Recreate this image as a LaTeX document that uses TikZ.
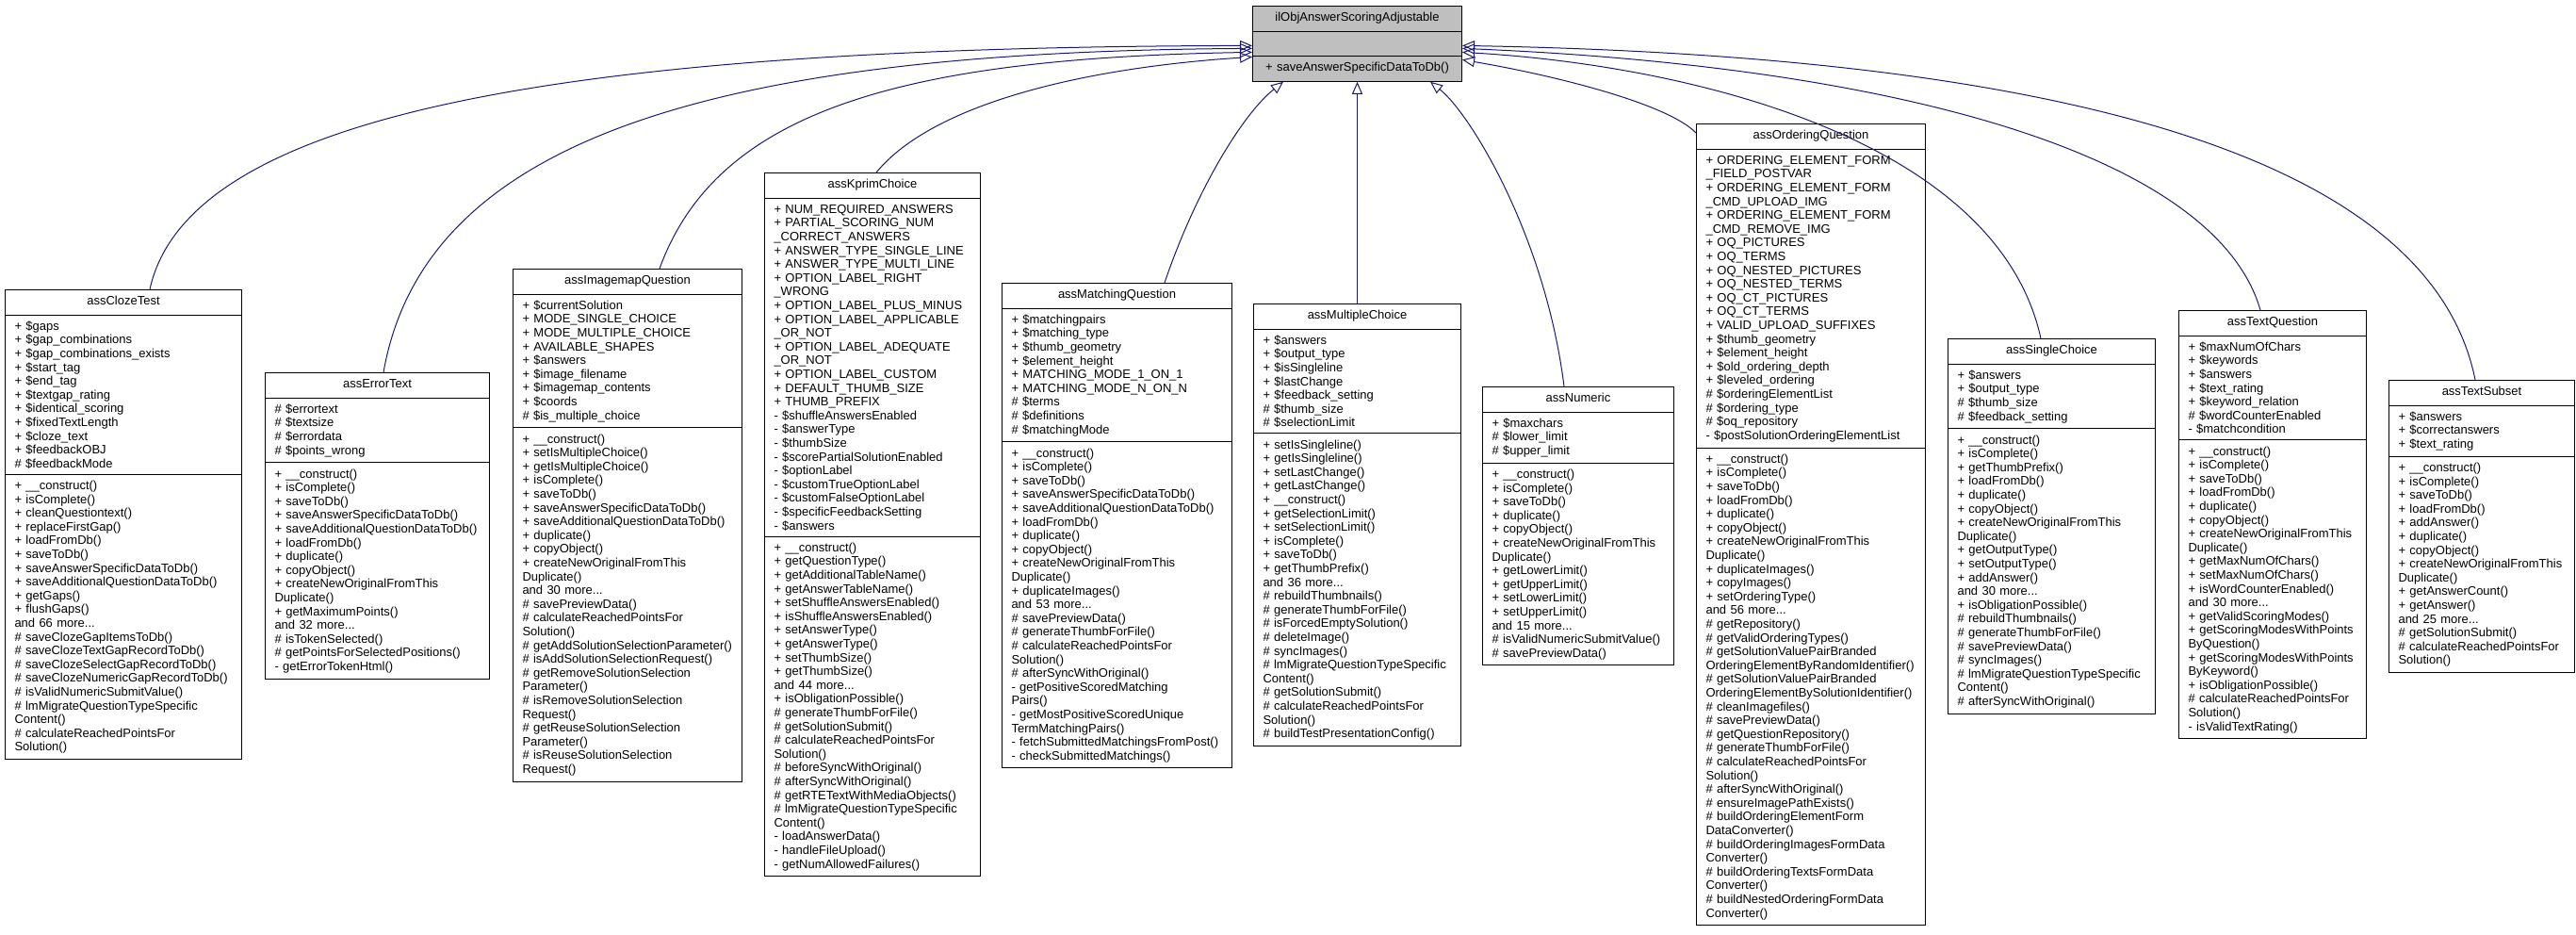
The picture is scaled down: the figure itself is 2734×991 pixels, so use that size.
\documentclass[tikz,border=0pt]{standalone}
\usepackage{fontspec}
\setmainfont{Liberation Sans}
\usetikzlibrary{shapes.multipart,calc,arrows.meta}
\definecolor{navy}{HTML}{191970}
\definecolor{basegray}{HTML}{BFBFBF}
\tikzset{
  cls/.style={rectangle split, rectangle split parts=3, draw=black, line width=1bp,
    fill=white, anchor=north west, inner xsep=10bp, inner ysep=5.5bp, align=left,
    font=\fontsize{13bp}{14.6bp}\selectfont},
  inh/.style={draw=navy, line width=1bp, -{Triangle[open,length=13bp,width=11bp]}}
}
\newcommand{\ttl}[1]{\strut\hfill #1\hfill\null}
\begin{document}
\begin{tikzpicture}[x=1bp,y=-1bp]
  \useasboundingbox (0,0) rectangle (2734,991);
  % base class
  \node[cls, fill=basegray, text width=202bp] (base) at (1329,6)
  {\ttl{ilObjAnswerScoringAdjustable}\nodepart{two}\strut\nodepart{three}\strut\hfill + saveAnswerSpecificDataToDb()\hfill\null};
  % derived classes
  \node[cls, text width=231bp] (cloze) at (5,307)
  {\ttl{assClozeTest}
  \nodepart{two}\strut + \$gaps\\ + \$gap\_combinations\\ + \$gap\_combinations\_exists\\ + \$start\_tag\\ + \$end\_tag\\ + \$textgap\_rating\\ + \$identical\_scoring\\ + \$fixedTextLength\\ + \$cloze\_text\\ + \$feedbackOBJ\\ \# \$feedbackMode
  \nodepart{three}\strut + \_\_construct()\\ + isComplete()\\ + cleanQuestiontext()\\ + replaceFirstGap()\\ + loadFromDb()\\ + saveToDb()\\ + saveAnswerSpecificDataToDb()\\ + saveAdditionalQuestionDataToDb()\\ + getGaps()\\ + flushGaps()\\ and 66 more...\\ \# saveClozeGapItemsToDb()\\ \# saveClozeTextGapRecordToDb()\\ \# saveClozeSelectGapRecordToDb()\\ \# saveClozeNumericGapRecordToDb()\\ \# isValidNumericSubmitValue()\\ \# lmMigrateQuestionTypeSpecific\\ Content()\\ \# calculateReachedPointsFor\\ Solution()};
  \node[cls, text width=218bp] (errortext) at (281,395)
  {\ttl{assErrorText}
  \nodepart{two}\strut \# \$errortext\\ \# \$textsize\\ \# \$errordata\\ \# \$points\_wrong
  \nodepart{three}\strut + \_\_construct()\\ + isComplete()\\ + saveToDb()\\ + saveAnswerSpecificDataToDb()\\ + saveAdditionalQuestionDataToDb()\\ + loadFromDb()\\ + duplicate()\\ + copyObject()\\ + createNewOriginalFromThis\\ Duplicate()\\ + getMaximumPoints()\\ and 32 more...\\ \# isTokenSelected()\\ \# getPointsForSelectedPositions()\\ - getErrorTokenHtml()};
  \node[cls, text width=223bp] (imagemap) at (544,285)
  {\ttl{assImagemapQuestion}
  \nodepart{two}\strut + \$currentSolution\\ + MODE\_SINGLE\_CHOICE\\ + MODE\_MULTIPLE\_CHOICE\\ + AVAILABLE\_SHAPES\\ + \$answers\\ + \$image\_filename\\ + \$imagemap\_contents\\ + \$coords\\ \# \$is\_multiple\_choice
  \nodepart{three}\strut + \_\_construct()\\ + setIsMultipleChoice()\\ + getIsMultipleChoice()\\ + isComplete()\\ + saveToDb()\\ + saveAnswerSpecificDataToDb()\\ + saveAdditionalQuestionDataToDb()\\ + duplicate()\\ + copyObject()\\ + createNewOriginalFromThis\\ Duplicate()\\ and 30 more...\\ \# savePreviewData()\\ \# calculateReachedPointsFor\\ Solution()\\ \# getAddSolutionSelectionParameter()\\ \# isAddSolutionSelectionRequest()\\ \# getRemoveSolutionSelection\\ Parameter()\\ \# isRemoveSolutionSelection\\ Request()\\ \# getReuseSolutionSelection\\ Parameter()\\ \# isReuseSolutionSelection\\ Request()};
  \node[cls, text width=209bp] (kprim) at (811,183)
  {\ttl{assKprimChoice}
  \nodepart{two}\strut + NUM\_REQUIRED\_ANSWERS\\ + PARTIAL\_SCORING\_NUM\\ \_CORRECT\_ANSWERS\\ + ANSWER\_TYPE\_SINGLE\_LINE\\ + ANSWER\_TYPE\_MULTI\_LINE\\ + OPTION\_LABEL\_RIGHT\\ \_WRONG\\ + OPTION\_LABEL\_PLUS\_MINUS\\ + OPTION\_LABEL\_APPLICABLE\\ \_OR\_NOT\\ + OPTION\_LABEL\_ADEQUATE\\ \_OR\_NOT\\ + OPTION\_LABEL\_CUSTOM\\ + DEFAULT\_THUMB\_SIZE\\ + THUMB\_PREFIX\\ - \$shuffleAnswersEnabled\\ - \$answerType\\ - \$thumbSize\\ - \$scorePartialSolutionEnabled\\ - \$optionLabel\\ - \$customTrueOptionLabel\\ - \$customFalseOptionLabel\\ - \$specificFeedbackSetting\\ - \$answers
  \nodepart{three}\strut + \_\_construct()\\ + getQuestionType()\\ + getAdditionalTableName()\\ + getAnswerTableName()\\ + setShuffleAnswersEnabled()\\ + isShuffleAnswersEnabled()\\ + setAnswerType()\\ + getAnswerType()\\ + setThumbSize()\\ + getThumbSize()\\ and 44 more...\\ + isObligationPossible()\\ \# generateThumbForFile()\\ \# getSolutionSubmit()\\ \# calculateReachedPointsFor\\ Solution()\\ \# beforeSyncWithOriginal()\\ \# afterSyncWithOriginal()\\ \# getRTETextWithMediaObjects()\\ \# lmMigrateQuestionTypeSpecific\\ Content()\\ - loadAnswerData()\\ - handleFileUpload()\\ - getNumAllowedFailures()};
  \node[cls, text width=224bp] (matching) at (1063,300)
  {\ttl{assMatchingQuestion}
  \nodepart{two}\strut + \$matchingpairs\\ + \$matching\_type\\ + \$thumb\_geometry\\ + \$element\_height\\ + MATCHING\_MODE\_1\_ON\_1\\ + MATCHING\_MODE\_N\_ON\_N\\ \# \$terms\\ \# \$definitions\\ \# \$matchingMode
  \nodepart{three}\strut + \_\_construct()\\ + isComplete()\\ + saveToDb()\\ + saveAnswerSpecificDataToDb()\\ + saveAdditionalQuestionDataToDb()\\ + loadFromDb()\\ + duplicate()\\ + copyObject()\\ + createNewOriginalFromThis\\ Duplicate()\\ + duplicateImages()\\ and 53 more...\\ \# savePreviewData()\\ \# generateThumbForFile()\\ \# calculateReachedPointsFor\\ Solution()\\ \# afterSyncWithOriginal()\\ - getPositiveScoredMatching\\ Pairs()\\ - getMostPositiveScoredUnique\\ TermMatchingPairs()\\ - fetchSubmittedMatchingsFromPost()\\ - checkSubmittedMatchings()};
  \node[cls, text width=200bp] (multiplechoice) at (1330,322)
  {\ttl{assMultipleChoice}
  \nodepart{two}\strut + \$answers\\ + \$output\_type\\ + \$isSingleline\\ + \$lastChange\\ + \$feedback\_setting\\ \# \$thumb\_size\\ \# \$selectionLimit
  \nodepart{three}\strut + setIsSingleline()\\ + getIsSingleline()\\ + setLastChange()\\ + getLastChange()\\ + \_\_construct()\\ + getSelectionLimit()\\ + setSelectionLimit()\\ + isComplete()\\ + saveToDb()\\ + getThumbPrefix()\\ and 36 more...\\ \# rebuildThumbnails()\\ \# generateThumbForFile()\\ \# isForcedEmptySolution()\\ \# deleteImage()\\ \# syncImages()\\ \# lmMigrateQuestionTypeSpecific\\ Content()\\ \# getSolutionSubmit()\\ \# calculateReachedPointsFor\\ Solution()\\ \# buildTestPresentationConfig()};
  \node[cls, text width=183bp] (numeric) at (1573,410)
  {\ttl{assNumeric}
  \nodepart{two}\strut + \$maxchars\\ \# \$lower\_limit\\ \# \$upper\_limit
  \nodepart{three}\strut + \_\_construct()\\ + isComplete()\\ + saveToDb()\\ + duplicate()\\ + copyObject()\\ + createNewOriginalFromThis\\ Duplicate()\\ + getLowerLimit()\\ + getUpperLimit()\\ + setLowerLimit()\\ + setUpperLimit()\\ and 15 more...\\ \# isValidNumericSubmitValue()\\ \# savePreviewData()};
  \node[cls, text width=223bp] (ordering) at (1800,131)
  {\ttl{assOrderingQuestion}
  \nodepart{two}\strut + ORDERING\_ELEMENT\_FORM\\ \_FIELD\_POSTVAR\\ + ORDERING\_ELEMENT\_FORM\\ \_CMD\_UPLOAD\_IMG\\ + ORDERING\_ELEMENT\_FORM\\ \_CMD\_REMOVE\_IMG\\ + OQ\_PICTURES\\ + OQ\_TERMS\\ + OQ\_NESTED\_PICTURES\\ + OQ\_NESTED\_TERMS\\ + OQ\_CT\_PICTURES\\ + OQ\_CT\_TERMS\\ + VALID\_UPLOAD\_SUFFIXES\\ + \$thumb\_geometry\\ + \$element\_height\\ + \$old\_ordering\_depth\\ + \$leveled\_ordering\\ \# \$orderingElementList\\ \# \$ordering\_type\\ \# \$oq\_repository\\ - \$postSolutionOrderingElementList
  \nodepart{three}\strut + \_\_construct()\\ + isComplete()\\ + saveToDb()\\ + loadFromDb()\\ + duplicate()\\ + copyObject()\\ + createNewOriginalFromThis\\ Duplicate()\\ + duplicateImages()\\ + copyImages()\\ + setOrderingType()\\ and 56 more...\\ \# getRepository()\\ \# getValidOrderingTypes()\\ \# getSolutionValuePairBranded\\ OrderingElementByRandomIdentifier()\\ \# getSolutionValuePairBranded\\ OrderingElementBySolutionIdentifier()\\ \# cleanImagefiles()\\ \# savePreviewData()\\ \# getQuestionRepository()\\ \# generateThumbForFile()\\ \# calculateReachedPointsFor\\ Solution()\\ \# afterSyncWithOriginal()\\ \# ensureImagePathExists()\\ \# buildOrderingElementForm\\ DataConverter()\\ \# buildOrderingImagesFormData\\ Converter()\\ \# buildOrderingTextsFormData\\ Converter()\\ \# buildNestedOrderingFormData\\ Converter()};
  \node[cls, text width=200bp] (singlechoice) at (2067,359)
  {\ttl{assSingleChoice}
  \nodepart{two}\strut + \$answers\\ + \$output\_type\\ \# \$thumb\_size\\ \# \$feedback\_setting
  \nodepart{three}\strut + \_\_construct()\\ + isComplete()\\ + getThumbPrefix()\\ + loadFromDb()\\ + duplicate()\\ + copyObject()\\ + createNewOriginalFromThis\\ Duplicate()\\ + getOutputType()\\ + setOutputType()\\ + addAnswer()\\ and 30 more...\\ + isObligationPossible()\\ \# rebuildThumbnails()\\ \# generateThumbForFile()\\ \# savePreviewData()\\ \# syncImages()\\ \# lmMigrateQuestionTypeSpecific\\ Content()\\ \# afterSyncWithOriginal()};
  \node[cls, text width=179bp] (textquestion) at (2312,329)
  {\ttl{assTextQuestion}
  \nodepart{two}\strut + \$maxNumOfChars\\ + \$keywords\\ + \$answers\\ + \$text\_rating\\ + \$keyword\_relation\\ \# \$wordCounterEnabled\\ - \$matchcondition
  \nodepart{three}\strut + \_\_construct()\\ + isComplete()\\ + saveToDb()\\ + loadFromDb()\\ + duplicate()\\ + copyObject()\\ + createNewOriginalFromThis\\ Duplicate()\\ + getMaxNumOfChars()\\ + setMaxNumOfChars()\\ + isWordCounterEnabled()\\ and 30 more...\\ + getValidScoringModes()\\ + getScoringModesWithPoints\\ ByQuestion()\\ + getScoringModesWithPoints\\ ByKeyword()\\ + isObligationPossible()\\ \# calculateReachedPointsFor\\ Solution()\\ - isValidTextRating()};
  \node[cls, text width=177bp] (textsubset) at (2535,403)
  {\ttl{assTextSubset}
  \nodepart{two}\strut + \$answers\\ + \$correctanswers\\ + \$text\_rating
  \nodepart{three}\strut + \_\_construct()\\ + isComplete()\\ + saveToDb()\\ + loadFromDb()\\ + addAnswer()\\ + duplicate()\\ + copyObject()\\ + createNewOriginalFromThis\\ Duplicate()\\ + getAnswerCount()\\ + getAnswer()\\ and 25 more...\\ \# getSolutionSubmit()\\ \# calculateReachedPointsFor\\ Solution()};
  % inheritance
  \draw[inh] ($(cloze.north west)+(154,0)$) .. controls (200,120) and (600,50) .. ($(base.west)+(0,2)$);
  \draw[inh] ($(errortext.north west)+(126,0)$) .. controls (450,150) and (750,55) .. ($(base.west)+(0,5)$);
  \draw[inh] ($(imagemap.north west)+(156,0)$) .. controls (760,120) and (950,62) .. ($(base.west)+(0,9)$);
  \draw[inh] ($(kprim.north west)+(119,0)$) .. controls (990,110) and (1150,72) .. ($(base.west)+(0,14)$);
  \draw[inh] ($(matching.north west)+(173,0)$) .. controls (1270,200) and (1320,120) .. ($(base.south west)+(33,0)$);
  \draw[inh] (multiplechoice.north) -- (base.south);
  \draw[inh] ($(numeric.north west)+(87,0)$) .. controls (1640,250) and (1560,120) .. ($(base.south east)+(-34,0)$);
  \draw[inh] ($(ordering.north west)+(0,10)$) .. controls (1770,110) and (1650,80) .. ($(base.east)+(0,17)$);
  \draw[inh] ($(singlechoice.north west)+(99,0)$) .. controls (2120,150) and (1800,70) .. ($(base.east)+(0,9)$);
  \draw[inh] ($(textquestion.north west)+(87,0)$) .. controls (2350,160) and (2000,70) .. ($(base.east)+(0,5)$);
  \draw[inh] ($(textsubset.north west)+(92,0)$) .. controls (2580,170) and (2200,60) .. ($(base.east)+(0,2)$);
\end{tikzpicture}
\end{document}
